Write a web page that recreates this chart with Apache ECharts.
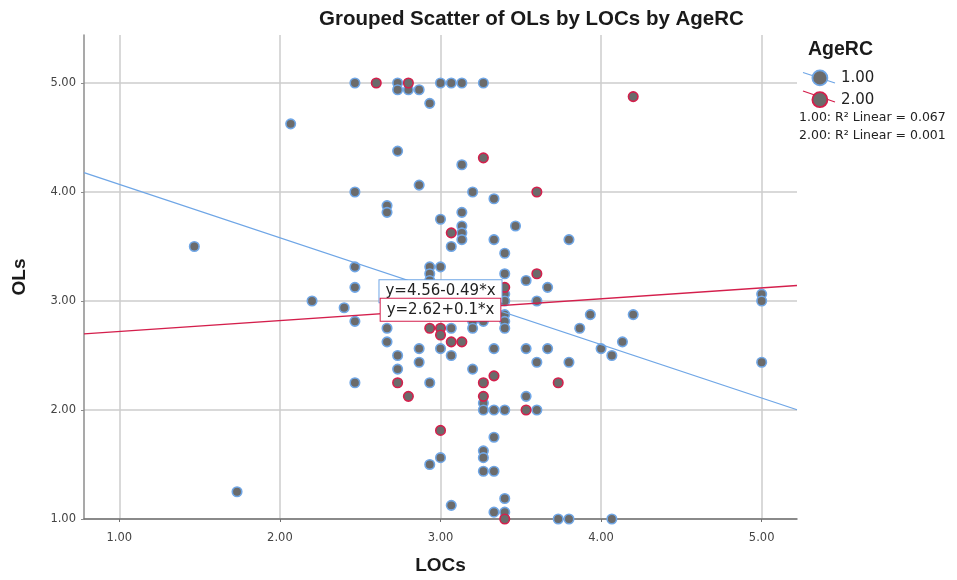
<!DOCTYPE html>
<html>
<head>
<meta charset="utf-8">
<script src="https://cdn.jsdelivr.net/npm/echarts@6/dist/echarts.min.js"></script>
<style>
  html, body { margin: 0; padding: 0; background: #ffffff; }
  #chart { width: 957px; height: 580px; }
</style>
</head>
<body>
<div id="chart"></div>
<script>
// Tick positions on both axes
const xTicks = [1, 2, 3, 4, 5];
const yTicks = [1, 2, 3, 4, 5];
const xRange = [0.78, 5.22];
const yRange = [1, 5.44];

// Group labels (AgeRC)
const groupNames = ['1.00', '2.00'];

// [LOCs, OLs] pairs, AgeRC = 1.00
const age1Points = [
  [2.467, 5.000], [2.733, 5.000], [3.000, 5.000], [3.067, 5.000], [3.133, 5.000], [3.267, 5.000],
  [2.733, 4.938], [2.800, 4.938], [2.867, 4.938],
  [2.933, 4.813], [2.067, 4.625], [2.733, 4.375], [3.133, 4.250], [2.867, 4.063],
  [2.467, 4.000], [3.200, 4.000], [3.333, 3.938],
  [2.667, 3.875], [2.667, 3.813], [3.133, 3.813], [3.000, 3.750],
  [3.133, 3.688], [3.467, 3.688], [3.133, 3.625],
  [3.133, 3.563], [3.333, 3.563], [3.800, 3.563],
  [3.067, 3.500], [1.467, 3.500], [3.400, 3.438],
  [2.467, 3.313], [2.933, 3.313], [3.000, 3.313],
  [2.933, 3.250], [3.400, 3.250],
  [2.933, 3.188], [3.533, 3.188],
  [2.467, 3.125], [3.667, 3.125],
  [3.400, 3.063], [5.000, 3.063],
  [3.400, 3.000], [3.600, 3.000], [2.200, 3.000], [5.000, 3.000],
  [2.400, 2.938],
  [3.400, 2.875], [3.933, 2.875], [4.200, 2.875],
  [2.467, 2.813], [3.200, 2.813], [3.267, 2.813], [3.400, 2.813],
  [2.667, 2.750], [3.067, 2.750], [3.200, 2.750], [3.400, 2.750], [3.867, 2.750],
  [2.667, 2.625], [4.133, 2.625],
  [2.867, 2.563], [3.000, 2.563], [3.333, 2.563], [3.533, 2.563], [3.667, 2.563], [4.000, 2.563],
  [2.733, 2.500], [3.067, 2.500], [4.067, 2.500],
  [2.867, 2.438], [3.600, 2.438], [3.800, 2.438], [5.000, 2.438],
  [2.733, 2.375], [3.200, 2.375],
  [2.467, 2.250], [2.933, 2.250],
  [3.533, 2.125], [3.267, 2.063],
  [3.267, 2.000], [3.333, 2.000], [3.400, 2.000], [3.600, 2.000],
  [3.333, 1.750], [3.267, 1.625],
  [3.267, 1.563], [3.000, 1.563], [2.933, 1.500],
  [3.267, 1.438], [3.333, 1.438],
  [1.733, 1.250], [3.400, 1.188], [3.067, 1.125],
  [3.333, 1.063], [3.400, 1.063],
  [3.733, 1.000], [3.800, 1.000], [4.067, 1.000]
];

// [LOCs, OLs] pairs, AgeRC = 2.00
const age2Points = [
  [2.600, 5.000], [2.800, 5.000], [4.200, 4.875], [3.267, 4.313], [3.600, 4.000],
  [3.067, 3.625], [3.600, 3.250], [3.400, 3.125],
  [2.933, 2.750], [3.000, 2.750], [3.000, 2.688], [3.067, 2.625], [3.133, 2.625],
  [3.333, 2.313], [2.733, 2.250], [3.267, 2.250], [3.733, 2.250],
  [2.800, 2.125], [3.267, 2.125], [3.533, 2.000], [3.000, 1.813], [3.400, 1.000]
];

// Linear fit per group: OLs = intercept + slope * LOCs
const fitIntercepts = [4.56, 2.62];
const fitSlopes = [-0.49, 0.1];
const rSquared = ['0.067', '0.001'];
const equationAnchorX = 3.0;

const edgeColors = ['#6fa6e6', '#d41f4c'];
const markerFill = '#6b6b6b';
const tickFont = 'DejaVu Sans';
const boldFont = 'Liberation Sans';

const chart = echarts.init(document.getElementById('chart'), null, { renderer: 'canvas' });

function equationText(i) {
  const b = fitSlopes[i];
  return 'y=' + fitIntercepts[i] + (b < 0 ? '-' : '+') + Math.abs(b) + '*x';
}

function fitLine(i) {
  return xRange.map(x => [x, fitIntercepts[i] + fitSlopes[i] * x]);
}

const scatterSeries = [age1Points, age2Points].map((pts, i) => ({
  name: groupNames[i],
  type: 'scatter',
  data: pts,
  symbol: 'circle',
  symbolSize: 9.5,
  z: 3,
  itemStyle: { color: markerFill, borderColor: edgeColors[i], borderWidth: 1.6, opacity: 1 },
  emphasis: { disabled: true }
}));

const lineSeries = [0, 1].map(i => ({
  name: 'fit ' + groupNames[i],
  type: 'line',
  data: fitLine(i),
  showSymbol: false,
  symbol: 'none',
  z: 4,
  lineStyle: { color: edgeColors[i], width: 1.3 },
  emphasis: { disabled: true },
  silent: true,
  markPoint: {
    symbol: 'rect',
    symbolSize: 1,
    silent: true,
    z: 6 + i,
    itemStyle: { color: 'rgba(0,0,0,0)' },
    label: {
      show: true,
      position: 'inside',
      formatter: equationText(i),
      color: '#222222',
      fontFamily: tickFont,
      fontSize: 15,
      lineHeight: 17,
      backgroundColor: '#ffffff',
      borderColor: edgeColors[i],
      borderWidth: 1,
      padding: [3, 6, 2, 6]
    },
    data: [{ coord: [equationAnchorX, fitIntercepts[i] + fitSlopes[i] * equationAnchorX] }]
  }
}));

const option = {
  animation: false,
  backgroundColor: '#ffffff',
  title: [
    {
      text: 'Grouped Scatter of OLs by LOCs by AgeRC',
      left: 319, top: 9, padding: 0,
      textStyle: { fontFamily: boldFont, fontSize: 20.5, fontWeight: 'bold', color: '#1a1a1a' }
    },
    {
      text: 'AgeRC',
      left: 808, top: 40, padding: 0,
      textStyle: { fontFamily: boldFont, fontSize: 19.5, fontWeight: 'bold', color: '#1a1a1a' }
    }
  ],
  legend: {
    data: groupNames,
    orient: 'vertical',
    left: 811.5, top: 69.5,
    padding: 0,
    itemWidth: 32, itemHeight: 15, itemGap: 5,
    icon: 'circle',
    z: 10,
    selectedMode: false,
    itemStyle: { borderWidth: 1.8 },
    textStyle: { fontFamily: tickFont, fontSize: 15, color: '#222222', padding: [0, 0, 0, 0] }
  },
  graphic: [
    { type: 'line', z: 0, silent: true, shape: { x1: 803, y1: 72.5, x2: 835, y2: 83 }, style: { stroke: edgeColors[0], lineWidth: 1.3 } },
    { type: 'line', z: 0, silent: true, shape: { x1: 803, y1: 91, x2: 835, y2: 102 }, style: { stroke: edgeColors[1], lineWidth: 1.3 } },
    { type: 'text', silent: true, left: 799, top: 111, style: { text: groupNames[0] + ': R² Linear = ' + rSquared[0], fontFamily: tickFont, fontSize: 12.5, fill: '#222222' } },
    { type: 'text', silent: true, left: 799, top: 129, style: { text: groupNames[1] + ': R² Linear = ' + rSquared[1], fontFamily: tickFont, fontSize: 12.5, fill: '#222222' } }
  ],
  grid: { left: 84, right: 160, top: 35, bottom: 58, containLabel: false },
  xAxis: {
    type: 'value',
    min: xRange[0], max: xRange[1],
    name: 'LOCs',
    nameLocation: 'middle',
    nameGap: 37,
    nameTextStyle: { fontFamily: boldFont, fontSize: 19, fontWeight: 'bold', color: '#1a1a1a' },
    axisLine: { show: true, onZero: false, lineStyle: { color: '#707070', width: 1.5 } },
    axisTick: { show: true, length: 3, customValues: xTicks, lineStyle: { color: '#707070' } },
    axisLabel: { customValues: xTicks, margin: 13, fontFamily: tickFont, fontSize: 11.5, color: '#444444', formatter: v => v.toFixed(2) },
    splitLine: { show: true, lineStyle: { color: '#cccccc', width: 1.5 } }
  },
  yAxis: {
    type: 'value',
    min: yRange[0], max: yRange[1],
    name: 'OLs',
    nameLocation: 'middle',
    nameGap: 55,
    nameTextStyle: { fontFamily: boldFont, fontSize: 19, fontWeight: 'bold', color: '#1a1a1a' },
    axisLine: { show: true, onZero: false, lineStyle: { color: '#8c8c8c', width: 1.5 } },
    axisTick: { show: true, length: 3, customValues: yTicks, lineStyle: { color: '#8c8c8c' } },
    axisLabel: { customValues: yTicks, margin: 8, fontFamily: tickFont, fontSize: 11.5, color: '#444444', formatter: v => v.toFixed(2) },
    splitLine: { show: true, lineStyle: { color: '#cccccc', width: 1.5 } }
  },
  series: scatterSeries.concat(lineSeries)
};

chart.setOption(option);
</script>
</body>
</html>
